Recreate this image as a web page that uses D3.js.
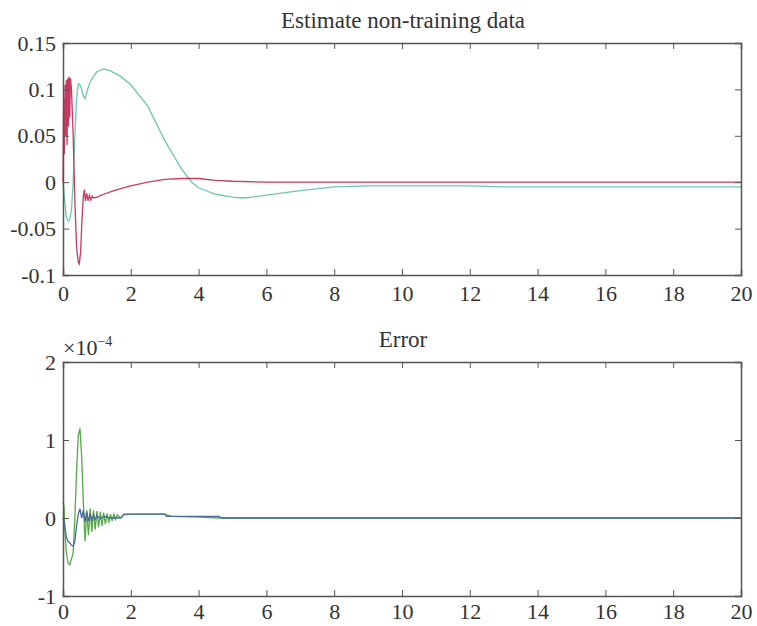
<!DOCTYPE html>
<html><head><meta charset="utf-8">
<script src="https://cdn.jsdelivr.net/npm/d3@7"></script>
<style>body{margin:0;background:#fff}svg{display:block}svg text{font-family:"Liberation Serif","DejaVu Serif",serif !important;fill:#333}</style>
</head><body>
<script>
// ---- Data ----
const xTicks = [0,2,4,6,8,10,12,14,16,18,20];
const topYTicks = [-0.1,-0.05,0,0.05,0.1,0.15];
const topYLabels = ["-0.1","-0.05","0","0.05","0.1","0.15"];
const botYTicks = [-1,0,1,2];
const botYLabels = ["-1","0","1","2"];

// Estimate non-training data: crimson series
const crimsonT = [0,0.02,0.04,0.06,0.08,0.1,0.12,0.14,0.16,0.18,0.2,0.22,0.25,0.3,0.35,0.4,0.45,0.48,0.52,0.56,0.6,0.63,0.66,0.7,0.74,0.78,0.82,0.86,0.9,1.0,1.2,1.5,2.0,2.5,3.0,3.5,4.0,4.5,5.0,6.0,8.0,20];
const crimsonV = [0,0.09,0.03,0.105,0.05,0.11,0.04,0.112,0.06,0.114,0.07,0.112,0.1,0.05,-0.02,-0.07,-0.086,-0.088,-0.075,-0.04,-0.015,-0.008,-0.02,-0.012,-0.02,-0.014,-0.019,-0.015,-0.017,-0.016,-0.013,-0.009,-0.004,0,0.003,0.004,0.004,0.002,0.001,0,0,0];
// Estimate non-training data: teal series
const tealT = [0,0.05,0.1,0.15,0.2,0.25,0.3,0.35,0.4,0.45,0.5,0.55,0.6,0.65,0.7,0.8,0.9,1.0,1.2,1.4,1.7,2.0,2.5,3.0,3.5,3.8,4.0,4.5,5.0,5.3,5.6,6.0,7.0,8.0,9.0,10.0,12.0,13.0,20];
const tealV = [0,-0.02,-0.038,-0.042,-0.04,-0.03,0,0.05,0.09,0.106,0.105,0.1,0.093,0.09,0.097,0.108,0.114,0.119,0.122,0.12,0.114,0.105,0.082,0.045,0.014,0,-0.006,-0.013,-0.016,-0.017,-0.016,-0.014,-0.009,-0.005,-0.004,-0.004,-0.004,-0.005,-0.005];

// Error (x1e-4): blue series
const blueT = [0,0.05,0.1,0.15,0.2,0.25,0.3,0.35,0.4,0.45,0.5,0.55,0.6,0.65,0.7,0.75,0.8,0.85,0.9,0.95,1.0,1.1,1.2,1.4,1.7,1.8,3.0,3.05,4.6,4.7,20];
const blueV = [0,-0.1,-0.25,-0.3,-0.32,-0.35,-0.36,-0.3,-0.1,0.05,0.12,0.0,0.1,-0.05,0.08,-0.04,0.06,-0.03,0.04,-0.02,0.03,-0.01,0.02,0,0,0.05,0.05,0.02,0.02,0,0];
// Error (x1e-4): green series
const greenT = [0,0.03,0.06,0.1,0.15,0.2,0.25,0.3,0.35,0.4,0.45,0.5,0.55,0.6,0.65,0.7,0.75,0.8,0.85,0.9,0.95,1.0,1.05,1.1,1.15,1.2,1.25,1.3,1.35,1.4,1.45,1.5,1.55,1.6,1.7,1.8,2.0,3.0,3.2,4.0,4.6,20];
const greenV = [0.2,0.15,-0.2,-0.45,-0.58,-0.6,-0.52,-0.45,0,0.6,1.05,1.15,0.8,0.2,-0.3,0.1,-0.22,0.12,-0.18,0.1,-0.15,0.09,-0.12,0.08,-0.1,0.07,-0.08,0.06,-0.06,0.05,-0.04,0.05,-0.02,0.04,0,0.04,0.05,0.05,0.02,0.01,0,0];

// ---- Drawing ----
const W = 757, H = 626;
const svg = d3.select("body").append("svg").attr("width", W).attr("height", H);
const x0 = 63, x1 = 741;
const fs = 22;
const serif = '"Liberation Serif", "DejaVu Serif", serif';

function panel(top, bottom, yDomain, yTicks, yLabels, title, titleY, xPad, series) {
  const x = d3.scaleLinear().domain([0, 20]).range([x0, x1]);
  const y = d3.scaleLinear().domain(yDomain).range([bottom, top]);
  const g = svg.append("g");
  series.forEach(s => {
    const pts = s.t.map((t, i) => [t, s.v[i]]);
    g.append("path").datum(pts)
      .attr("fill", "none").attr("stroke", s.color).attr("stroke-width", 1.3)
      .attr("d", d3.line().x(d => x(d[0])).y(d => y(d[1])));
  });
  const axisColor = "#555";
  const axB = g.append("g").attr("transform", `translate(0,${bottom})`)
    .call(d3.axisBottom(x).tickValues(xTicks).tickSize(-6).tickPadding(xPad).tickFormat(d3.format("d")));
  const axT = g.append("g").attr("transform", `translate(0,${top})`)
    .call(d3.axisTop(x).tickValues(xTicks).tickSize(-6).tickFormat(""));
  const axL = g.append("g").attr("transform", `translate(${x0},0)`)
    .call(d3.axisLeft(y).tickValues(yTicks).tickSize(-6).tickPadding(7).tickFormat((d, i) => yLabels[i]));
  const axR = g.append("g").attr("transform", `translate(${x1},0)`)
    .call(d3.axisRight(y).tickValues(yTicks).tickSize(-6).tickFormat(""));
  [axB, axT, axL, axR].forEach(a => {
    a.attr("font-family", serif).attr("font-size", fs);
    a.select(".domain").attr("stroke", axisColor).attr("stroke-width", 1.5);
    a.selectAll(".tick line").attr("stroke", axisColor).attr("stroke-width", 1);
    a.selectAll(".tick text").style("font-family", serif).style("font-size", fs + "px").attr("fill", "#333");
  });
  g.append("text").attr("x", 403).attr("y", titleY).attr("text-anchor", "middle")
    .style("font-family", serif).style("font-size", "23px").text(title);
  return { x, y };
}

panel(43, 275, [-0.1, 0.15], topYTicks, topYLabels, "Estimate non-training data", 28, 10, [
  { t: tealT, v: tealV, color: "#6cc6b2" },
  { t: crimsonT, v: crimsonV, color: "#c83a62" }
]);

panel(362, 596, [-1, 2], botYTicks, botYLabels, "Error", 347, 7, [
  { t: greenT, v: greenV, color: "#58a84a" },
  { t: blueT, v: blueV, color: "#4a6a9a" }
]);

// exponent label
const ex = svg.append("text").attr("x", 63).attr("y", 355).style("font-family", serif).style("font-size", "22px");
ex.append("tspan").text("×10");
ex.append("tspan").attr("dy", -9).style("font-size", "14px").text("−4");
</script>
</body></html>
